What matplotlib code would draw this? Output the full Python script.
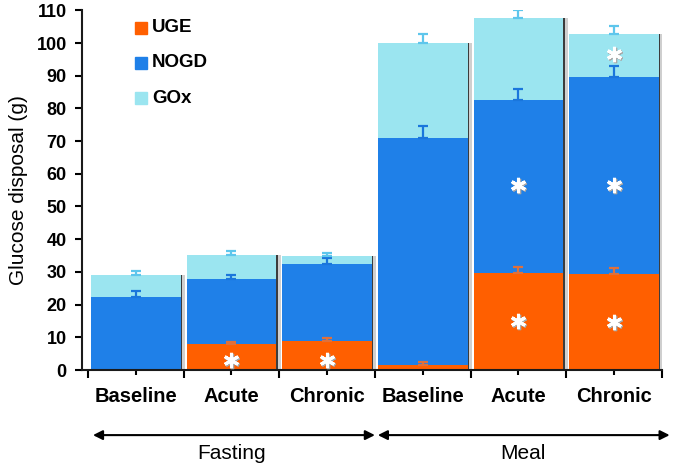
import matplotlib
matplotlib.use("Agg")
import matplotlib.pyplot as plt
import numpy as np

plt.rcParams['font.family'] = ['Liberation Sans', 'DejaVu Sans']

# ── Data ────────────────────────────────────────────────────────────────────
categories = ["Baseline", "Acute", "Chronic", "Baseline", "Acute", "Chronic"]
groups     = ["Fasting", "Meal"]

uge  = np.array([0.0, 8.0, 9.0, 1.4, 29.8, 29.4])
nogd = np.array([22.4, 19.7, 23.4, 69.6, 52.8, 60.1])
gox  = np.array([6.7, 7.5, 2.5, 28.9, 24.9, 13.3])

uge_err  = np.array([0.0, 0.6, 0.7, 1.0, 1.6, 1.7])
nogd_err = np.array([1.8, 1.4, 1.8, 3.7, 3.3, 3.5])
gox_err  = np.array([1.2, 1.3, 1.0, 2.9, 2.6, 2.4])

# significance markers: (bar index, segment)
stars = [(1, "uge"), (2, "uge"),
         (4, "uge"), (4, "nogd"),
         (5, "uge"), (5, "nogd"), (5, "gox")]

series_names = ["UGE", "NOGD", "GOx"]
colors       = ["#FF5F00", "#1F80E8", "#9BE5F0"]
err_colors   = ["#E0703A", "#1A76DC", "#5EC6EC"]

# ── Figure ──────────────────────────────────────────────────────────────────
fig = plt.figure(figsize=(6.77, 4.69), dpi=100)
ax = fig.add_axes([82 / 677, 1 - 370 / 469, 580 / 677, 359.7 / 469])

x = np.arange(len(categories))
w = 0.936

c_uge = uge
c_nogd = uge + nogd
c_gox = uge + nogd + gox

# drop shadow on right side
ax.bar(x + 0.045, c_gox, w, color="#cfcfcf", zorder=1)
ax.bar(x + 0.016, c_gox, w, color="#3c3c3c", zorder=1.1)

ax.bar(x, uge, w, color=colors[0], zorder=2)
ax.bar(x, nogd, w, bottom=uge, color=colors[1], zorder=2)
ax.bar(x, gox, w, bottom=c_nogd, color=colors[2], zorder=2)

for top, err, col in [(c_uge, uge_err, err_colors[0]),
                      (c_nogd, nogd_err, err_colors[1]),
                      (c_gox, gox_err, err_colors[2])]:
    m = err > 0
    ax.errorbar(x[m], top[m], yerr=[np.zeros(m.sum()), err[m]], fmt="none",
                ecolor=col, elinewidth=1.6, capsize=3.8, capthick=1.6, zorder=3)

# asterisks
for i, seg in stars:
    if seg == "uge":
        y = c_uge[i] / 2 if c_uge[i] > 15 else 3.0
    elif seg == "nogd":
        y = 56.5
    else:
        y = c_gox[i] - 6.2
    ax.plot(x[i] + 0.01, y - 0.35, marker=(6, 2, 0), ms=11, mew=2.4,
            color="#a8a8a8", zorder=4)
    ax.plot(x[i], y, marker=(6, 2, 0), ms=11, mew=2.2, color="white", zorder=5)

# axes styling
ax.set_xlim(-0.5 - 6 / 95.7, 5.5)
ax.set_ylim(0, 110)
ax.spines["top"].set_visible(False)
ax.spines["right"].set_visible(False)
for s in ["left", "bottom"]:
    ax.spines[s].set_linewidth(1.5)
    ax.spines[s].set_color("#1a1a1a")

ax.set_yticks(np.arange(0, 111, 10))
ax.tick_params(axis="y", direction="out", length=5, width=1.5, pad=6,
               labelsize=13)
for lbl in ax.get_yticklabels():
    lbl.set_fontweight("bold")

ax.set_xticks(np.arange(-0.5, 6, 1.0))
ax.set_xticks(x, minor=True)
ax.tick_params(axis="x", which="major", direction="out", length=6, width=1.5,
               labelbottom=False)
ax.tick_params(axis="x", which="minor", direction="out", length=3.5, width=1.5)

ax.set_ylabel("Glucose disposal (g)", fontsize=15, labelpad=6)

xt = ax.get_xaxis_transform()
for xi, name in zip(x, categories):
    ax.text(xi, -0.075, name, transform=xt, ha="center", va="center",
            fontsize=14.5, fontweight="bold", clip_on=False)

# group arrows
for (x0, x1), name, xc in [((-0.448, 2.499), groups[0], 1.0),
                           ((2.53, 5.58), groups[1], 4.05)]:
    ax.annotate("", xy=(x1, -0.181), xytext=(x0, -0.181), xycoords=xt,
                textcoords=xt, annotation_clip=False,
                arrowprops=dict(arrowstyle="<|-|>", color="black", lw=1.5,
                                mutation_scale=14, shrinkA=0, shrinkB=0))
    ax.text(xc, -0.231, name, transform=xt, ha="center", va="center",
            fontsize=15, clip_on=False)

# legend
for k, (name, col) in enumerate(zip(series_names, colors)):
    yy = 0.951 - k * 0.0975
    ax.plot(0.1017, yy, marker="s", ms=8.2, color=col, transform=ax.transAxes,
            clip_on=False, zorder=6)
    ax.text(0.1207, yy, name, transform=ax.transAxes, ha="left", va="center",
            fontsize=13.5, fontweight="bold")

fig.savefig("out.png", dpi=100)
